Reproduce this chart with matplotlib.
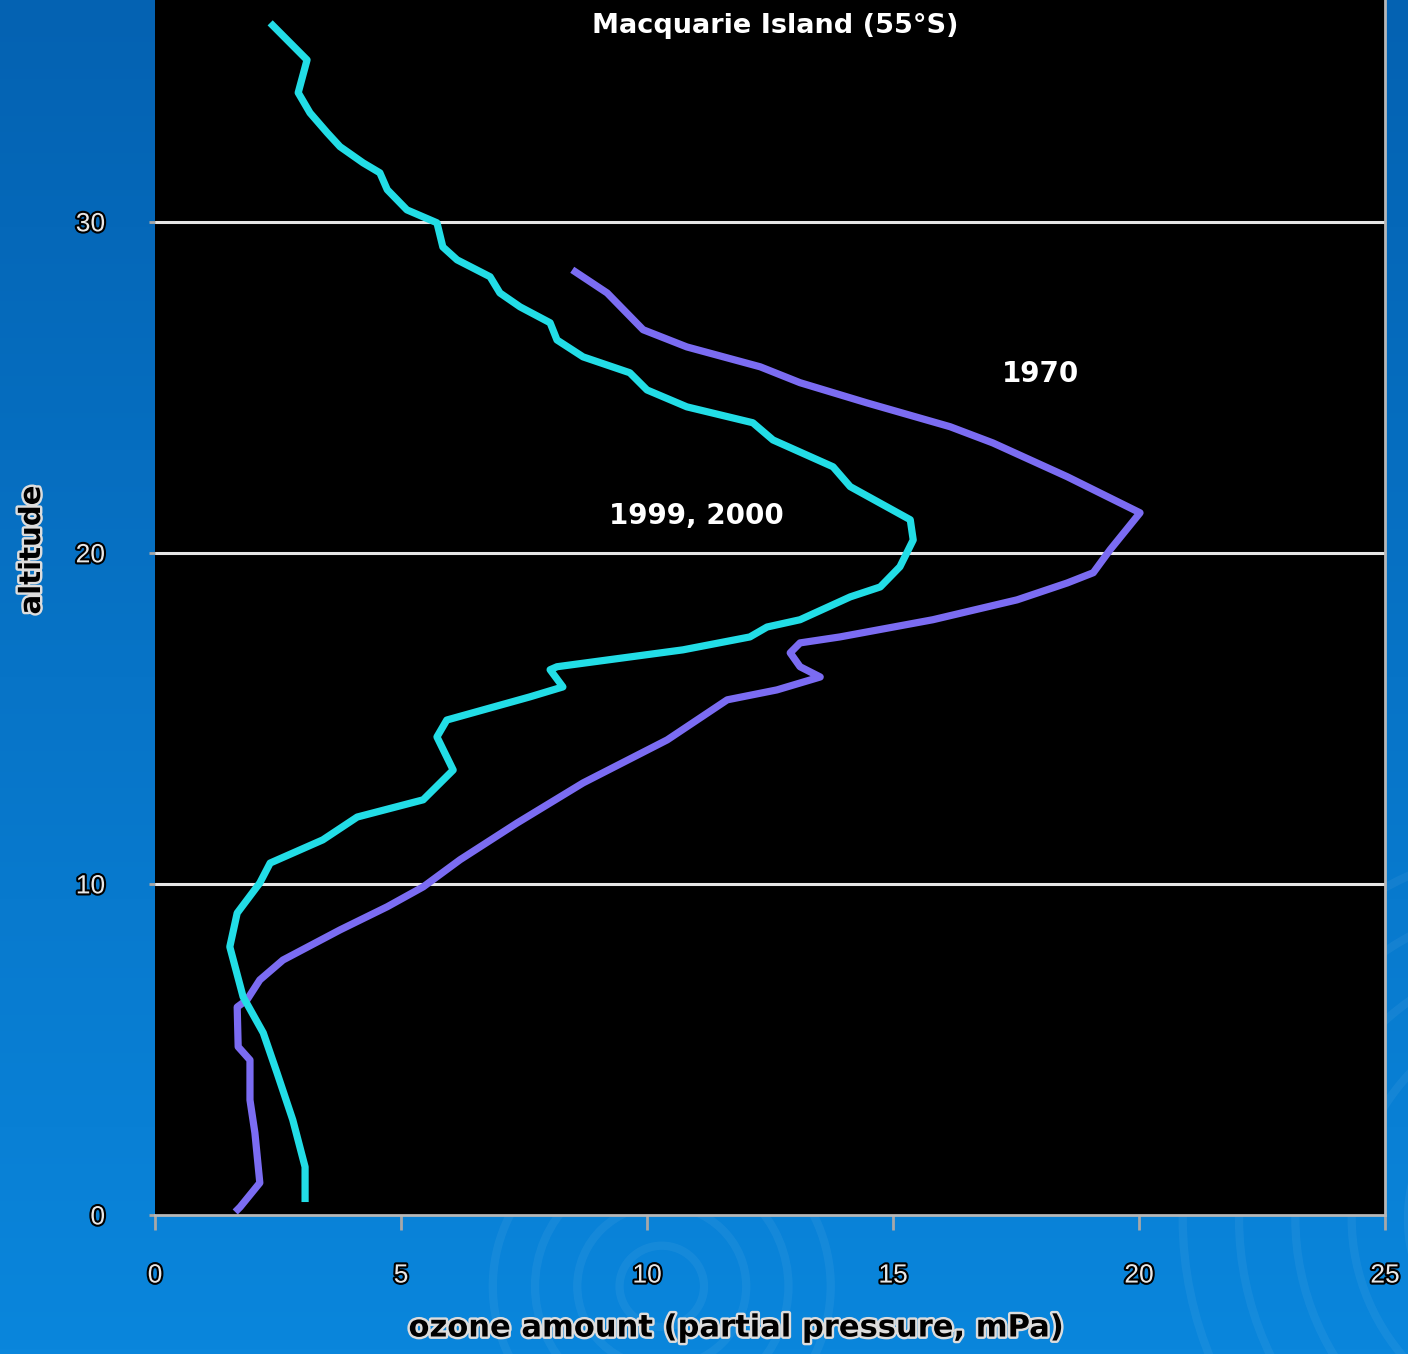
import numpy as np
import matplotlib
matplotlib.use("Agg")
import matplotlib.pyplot as plt
import matplotlib.patheffects as pe
from matplotlib.patches import Circle

# ozone profiles, Macquarie Island: partial pressure (mPa) vs altitude (km)
ozone_recent = [3.05, 3.05, 2.80, 2.48, 2.20, 1.79, 1.52, 1.67, 2.13, 2.34, 3.41, 4.11,
                5.45, 6.06, 5.73, 5.93, 7.62, 8.29, 8.03, 8.17, 10.73, 12.09, 12.44,
                13.11, 14.13, 14.74, 15.14, 15.41, 15.35, 14.13, 13.78, 12.56, 12.15,
                10.81, 10.00, 9.65, 8.70, 8.17, 8.03, 7.42, 7.01, 6.81, 6.14, 5.85,
                5.73, 5.12, 4.72, 4.57, 4.23, 3.76, 3.50, 3.15, 2.91, 3.09, 2.34]
alt_recent = [0.39, 1.45, 2.87, 4.29, 5.50, 6.59, 8.10, 9.12, 10.03, 10.63, 11.33, 12.02,
              12.54, 13.44, 14.44, 14.95, 15.65, 15.95, 16.47, 16.56, 17.07, 17.46, 17.76,
              17.98, 18.67, 18.97, 19.58, 20.39, 21.00, 22.00, 22.60, 23.41, 23.93,
              24.41, 24.92, 25.44, 25.92, 26.43, 26.95, 27.43, 27.85, 28.34, 28.85, 29.24,
              29.97, 30.36, 30.97, 31.48, 31.78, 32.27, 32.69, 33.29, 33.90, 34.89, 36.01]

ozone_1970 = [1.63, 1.73, 2.13, 2.03, 1.93, 1.93, 1.69, 1.67, 1.87, 2.13, 2.60, 3.76,
              4.72, 5.45, 6.20, 7.36, 8.70, 10.41, 11.63, 12.64, 13.52, 13.11, 12.91,
              13.11, 13.92, 15.81, 17.52, 18.54, 19.07, 19.41, 20.02, 18.54, 17.03,
              16.16, 14.47, 13.11, 12.30, 10.81, 9.92, 9.19, 8.48]
alt_1970 = [0.09, 0.24, 0.97, 2.48, 3.47, 4.68, 5.08, 6.28, 6.50, 7.10, 7.70, 8.61,
            9.31, 9.91, 10.73, 11.84, 13.05, 14.35, 15.56, 15.86, 16.25, 16.56, 16.98,
            17.28, 17.46, 17.98, 18.58, 19.09, 19.40, 20.09, 21.21, 22.30, 23.32,
            23.81, 24.53, 25.14, 25.62, 26.22, 26.74, 27.85, 28.55]

x_ticks = [0, 5, 10, 15, 20, 25]
y_ticks = [0, 10, 20, 30]

outline = [pe.withStroke(linewidth=3, foreground="black")]
label_fx = [pe.withStroke(linewidth=3.5, foreground="#DDDDDD")]

fig = plt.figure(figsize=(14.08, 13.54), dpi=100)

# blue gradient backdrop with faint ripples
bg = fig.add_axes([0, 0, 1, 1])
grad = np.linspace(0, 1, 256).reshape(-1, 1)
cmap = matplotlib.colors.LinearSegmentedColormap.from_list("bg", ["#0462B2", "#0A86DC"])
bg.imshow(grad, aspect="auto", cmap=cmap, extent=[0, 1, 0, 1], origin="upper")
for cx, cy, radii in [(0.47, 0.05, [0.03, 0.06, 0.09, 0.12]),
                      (1.12, 0.10, [0.12, 0.16, 0.20, 0.24, 0.28])]:
    for r in radii:
        bg.add_patch(Circle((cx, cy), r, fill=False, lw=6, ec="white", alpha=0.05,
                            transform=bg.transAxes))
bg.set_xlim(0, 1)
bg.set_ylim(0, 1)
bg.axis("off")

ax = fig.add_axes([0.1101, 0.1027, 0.8736, 0.8973])
ax.set_facecolor("black")
ax.set_xlim(0, 25)
ax.set_ylim(0, 36.7)

for y in y_ticks[1:]:
    ax.axhline(y, color="#E6E6E6", lw=2.2, zorder=1)

ax.plot(ozone_recent, alt_recent, color="#22DDE6", lw=5.2, solid_joinstyle="round",
        solid_capstyle="butt", zorder=3)
ax.plot(ozone_1970, alt_1970, color="#7B6CF2", lw=5.2, solid_joinstyle="round",
        solid_capstyle="butt", zorder=2)

ax.text(12.6, 35.9, "Macquarie Island (55°S)", color="white", fontsize=19.5,
        fontweight="bold", family="DejaVu Sans", ha="center", va="center")
ax.text(11.0, 21.1, "1999, 2000", color="white", fontsize=20,
        fontweight="bold", family="DejaVu Sans", ha="center", va="center")
ax.text(18.0, 25.4, "1970", color="white", fontsize=20,
        fontweight="bold", family="DejaVu Sans", ha="center", va="center")

ax.set_xticks(x_ticks)
ax.set_yticks(y_ticks)
ax.set_xticklabels([str(t) for t in x_ticks], color="#E8E8E8", fontsize=19,
                   family="Liberation Sans", path_effects=outline)
ax.set_yticklabels([str(t) for t in y_ticks], color="#E8E8E8", fontsize=19,
                   family="Liberation Sans", path_effects=outline)
ax.tick_params(axis="x", length=11, width=2, color="#A8A8A8", pad=24)
ax.tick_params(axis="y", length=4, width=2, color="#A8A8A8", pad=32)

for side in ["top", "left"]:
    ax.spines[side].set_visible(False)
for side in ["bottom", "right"]:
    ax.spines[side].set_color("#B8B8B8")
    ax.spines[side].set_linewidth(2)

fig.text(735 / 1408, 1 - 1328 / 1354, "ozone amount (partial pressure, mPa)",
         color="black", fontsize=22, fontweight="bold", family="DejaVu Sans",
         ha="center", va="center", path_effects=label_fx)
fig.text(32 / 1408, 1 - 550 / 1354, "altitude", color="black", fontsize=21,
         fontweight="bold", family="DejaVu Sans", rotation=90,
         ha="center", va="center", path_effects=label_fx)

fig.savefig("out.png", dpi=100)
